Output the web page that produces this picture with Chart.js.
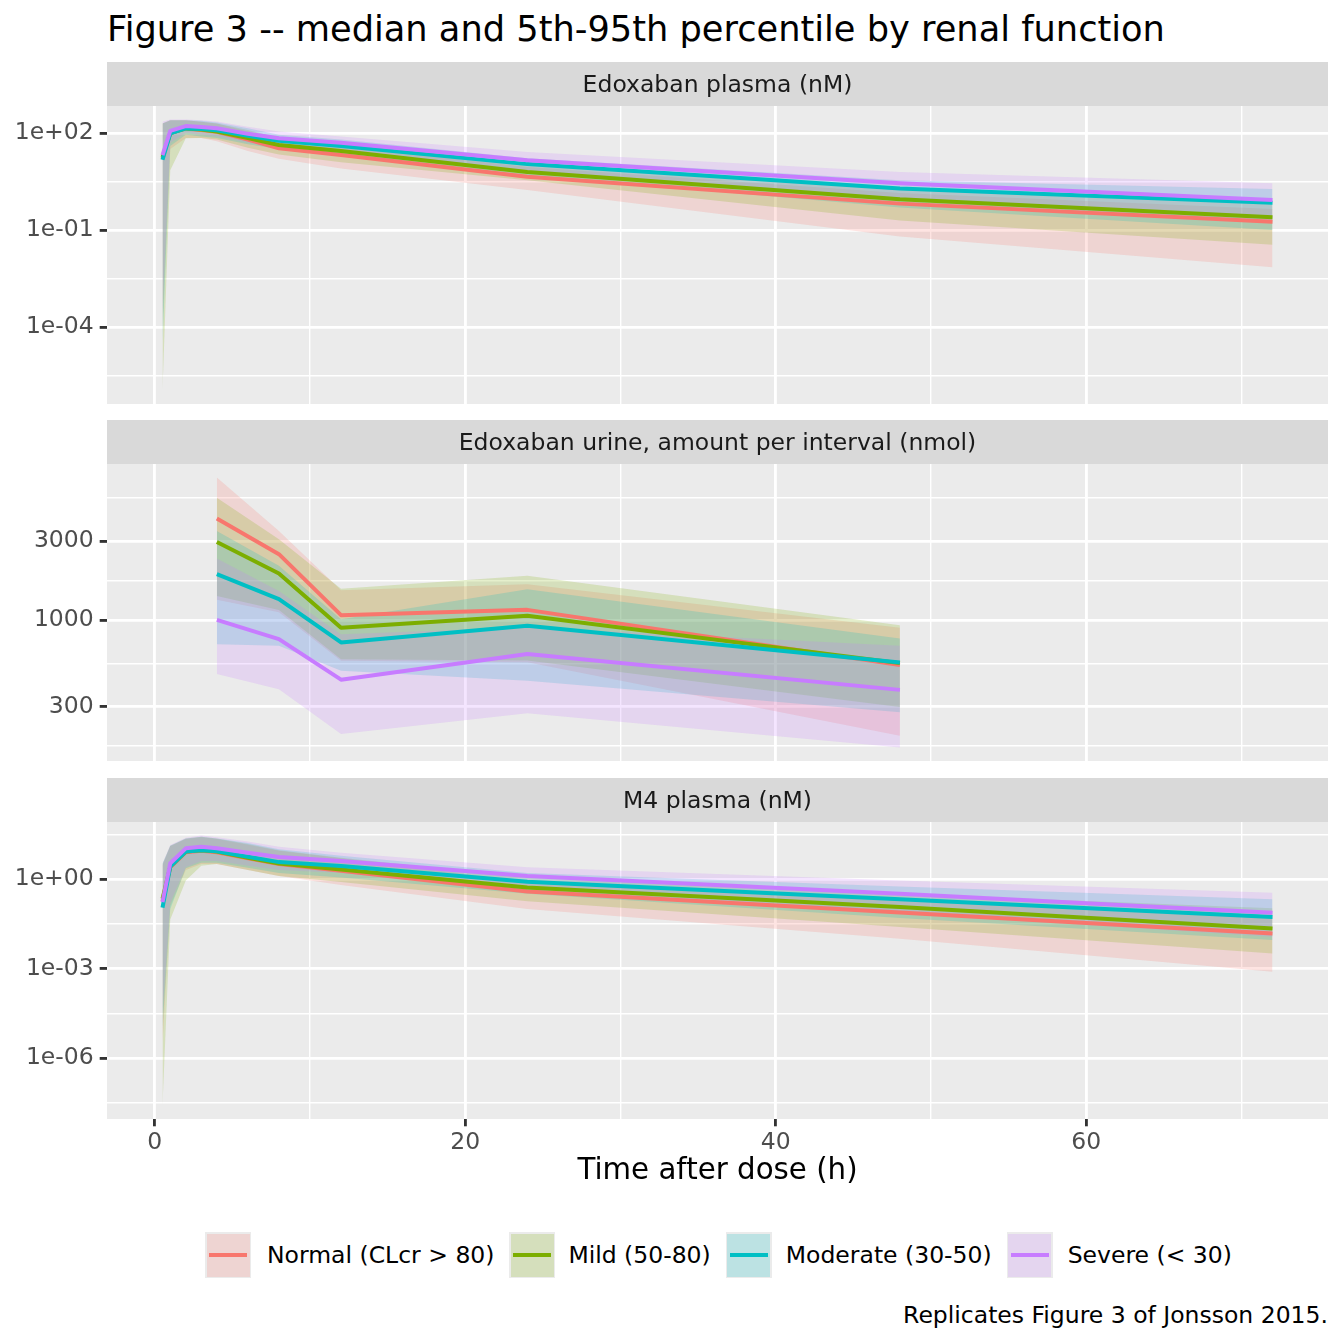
<!DOCTYPE html>
<html>
<head>
<meta charset="utf-8">
<script src="https://cdn.jsdelivr.net/npm/chart.js@4.4.1/dist/chart.umd.min.js"></script>
<style>
  body { margin: 0; background: #fff; }
  #page { position: relative; width: 1344px; height: 1344px; overflow: hidden; font-family: "DejaVu Sans", sans-serif; }
  canvas { position: absolute; left: 0; }
  .txt { position: absolute; white-space: nowrap; line-height: 40px; height: 40px; }
  #title { left: 107px; top: 9px; font-size: 35.2px; color: #000; }
  #caption { right: 16px; top: 1295px; font-size: 23.5px; color: #000; }
  .key { position: absolute; top: 1232px; width: 46px; height: 46px; background: #EBEBEB; }
  .key .fill { position: absolute; left: 1.5px; top: 1.5px; right: 1.5px; bottom: 1.5px; }
  .key .line { position: absolute; left: 4px; right: 4px; top: 21px; height: 4px; }
  .lab { position: absolute; top: 1235px; font-size: 23.5px; color: #000; line-height: 40px; white-space: nowrap; }
</style>
</head>
<body>
<div id="page">
  <div id="title" class="txt">Figure 3 -- median and 5th-95th percentile by renal function</div>
  <canvas id="c1" width="1344" height="342" style="top:62px"></canvas>
  <canvas id="c2" width="1344" height="341" style="top:420px"></canvas>
  <canvas id="c3" width="1344" height="411" style="top:778px"></canvas>
  <div id="caption" class="txt">Replicates Figure 3 of Jonsson 2015.</div>
</div>
<script>
// groups, in legend order
const groups = ['Normal (CLcr > 80)', 'Mild (50-80)', 'Moderate (30-50)', 'Severe (< 30)'];
const groupColors = ['#F8766D', '#7CAE00', '#00BFC4', '#C77CFF'];

// sampling times (h)
const timePlasma = [0.5, 1, 2, 3, 4, 6, 8, 12, 24, 48, 72];
const timeUrine = [4, 8, 12, 24, 48];

// Edoxaban plasma (nM): one row per group
const plasmaMed = [
  [16, 100, 140, 125, 110, 63, 34, 21, 4.5, 0.66, 0.18],
  [18, 100, 140, 130, 112, 70, 43, 28, 6.3, 0.9, 0.25],
  [15, 98, 140, 135, 123, 83, 58, 40, 11, 1.95, 0.7],
  [21, 117, 165, 155, 141, 95, 69, 50, 14.6, 2.8, 0.85]
];
const plasmaLo = [
  [1e-4, 32, 71, 71, 56, 28, 16, 8.1, 1.74, 0.063, 0.0071],
  [1.1e-6, 7.1, 69, 71, 63, 35, 22, 12.6, 3.5, 0.2, 0.035],
  [3.2e-5, 40, 89, 79, 71, 45, 32, 20, 5.0, 0.5, 0.1],
  [3.2e-4, 50, 100, 89, 79, 50, 35, 23, 6.3, 0.8, 0.2]
];
const plasmaHi = [
  [200, 250, 250, 224, 200, 112, 63, 40, 8.9, 1.4, 0.45],
  [200, 250, 250, 224, 200, 126, 71, 50, 11.2, 2.0, 0.63],
  [200, 250, 250, 240, 214, 141, 89, 63, 16.6, 3.5, 1.86],
  [224, 263, 263, 251, 229, 158, 112, 79, 26, 6.3, 2.8]
];

// Edoxaban urine, amount per interval (nmol)
const urineMed = [
  [4110, 2505, 1072, 1154, 535],
  [2970, 1915, 899, 1062, 550],
  [1895, 1340, 733, 924, 555],
  [1004, 768, 437, 624, 379]
];
const urineLo = [
  [1327, 1118, 568, 556, 200],
  [1400, 1150, 580, 570, 299],
  [716, 700, 494, 431, 278],
  [472, 383, 205, 274, 170]
];
const urineHi = [
  [7280, 3460, 1517, 1650, 900],
  [5500, 3080, 1550, 1853, 933],
  [3460, 2130, 1014, 1540, 774],
  [2360, 1500, 822, 906, 700]
];

// M4 plasma (nM)
const m4Med = [
  [0.18, 2.5, 7.9, 8.9, 7.9, 5.0, 3.2, 1.9, 0.38, 0.076, 0.015],
  [0.22, 2.6, 8.3, 9.3, 8.3, 5.2, 3.3, 2.1, 0.52, 0.115, 0.022],
  [0.11, 2.6, 8.3, 9.3, 8.5, 5.6, 3.7, 2.75, 0.81, 0.21, 0.054],
  [0.17, 3.4, 10.7, 12, 10.7, 7.6, 5.5, 4.0, 1.26, 0.32, 0.074]
];
const m4Lo = [
  [3.2e-6, 0.126, 2.0, 3.2, 3.2, 2.0, 1.26, 0.63, 0.1, 0.01, 0.00078],
  [2.6e-8, 0.044, 0.89, 2.8, 3.2, 2.0, 1.26, 0.79, 0.18, 0.025, 0.0032],
  [1e-5, 0.1, 2.3, 3.5, 3.5, 2.4, 1.6, 1.12, 0.32, 0.05, 0.0091],
  [3.2e-5, 0.16, 2.5, 4.0, 4.0, 2.8, 2.0, 1.6, 0.4, 0.071, 0.0117]
];
const m4Hi = [
  [2.8, 12.6, 22, 25, 22, 14, 8.9, 5.0, 0.79, 0.2, 0.055],
  [3.2, 13, 23, 26, 23, 15, 9.3, 5.2, 1.12, 0.32, 0.105],
  [3.2, 13, 23, 26, 23, 16, 10, 6.0, 1.6, 0.56, 0.21],
  [3.4, 13.8, 24, 28.8, 25, 18, 12, 7.6, 2.5, 0.89, 0.35]
];

// axis breaks
const xMajor = [0, 20, 40, 60];
const xMinor = [10, 30, 50, 70];
const plasmaMajor = [1e-7, 1e-4, 1e-1, 1e2];
const urineMajor = [100, 300, 1000, 3000, 10000];
const m4Major = [1e-6, 1e-3, 1e0];

const LINE_W = 4, GRID_MAJOR = 2.84, GRID_MINOR = 1.42;

function hexToRgba(hex, a) {
  const n = parseInt(hex.slice(1), 16);
  return 'rgba(' + (n >> 16) + ',' + ((n >> 8) & 255) + ',' + (n & 255) + ',' + a + ')';
}

function sci(v) {
  const e = Math.round(Math.log10(v));
  return '1e' + (e < 0 ? '-' : '+') + String(Math.abs(e)).padStart(2, '0');
}

function pts(xs, ys) {
  return xs.map((x, i) => ({ x: x, y: ys[i] }));
}

// ggplot-style 5% expansion of the data range (log10 for y)
function expand(lo, hi, log) {
  const a = log ? Math.log10(lo) : lo, b = log ? Math.log10(hi) : hi;
  const d = (b - a) * 0.05;
  return log ? [Math.pow(10, a - d), Math.pow(10, b + d)] : [a - d, b + d];
}

// minor log breaks sit at the geometric mean of neighbouring majors
function logMinors(majors) {
  const out = [];
  for (let i = 0; i < majors.length - 1; i++) out.push(Math.sqrt(majors[i] * majors[i + 1]));
  out.push(Math.sqrt(majors[majors.length - 1] * majors[majors.length - 1] * majors[1] / majors[0]));
  out.unshift(Math.sqrt(majors[0] * majors[0] * majors[0] / majors[1]));
  return out;
}

const allTimes = timePlasma.concat(timeUrine);
const xLim = expand(Math.min.apply(null, allTimes), Math.max.apply(null, allTimes), false);

const panels = [
  { id: 'c1', strip: 'Edoxaban plasma (nM)', time: timePlasma, med: plasmaMed, lo: plasmaLo, hi: plasmaHi,
    major: plasmaMajor, fmt: sci, bottom: false },
  { id: 'c2', strip: 'Edoxaban urine, amount per interval (nmol)', time: timeUrine, med: urineMed, lo: urineLo, hi: urineHi,
    major: urineMajor, fmt: v => String(Math.round(v)), bottom: false },
  { id: 'c3', strip: 'M4 plasma (nM)', time: timePlasma, med: m4Med, lo: m4Lo, hi: m4Hi,
    major: m4Major, fmt: sci, bottom: true }
];

const panelPlugin = {
  id: 'panelBg',
  beforeDraw(chart, args, opts) {
    const a = chart.chartArea, ctx = chart.ctx;
    ctx.save();
    ctx.fillStyle = '#EBEBEB';
    ctx.fillRect(a.left, a.top, a.right - a.left, a.bottom - a.top);
    ctx.fillStyle = '#D9D9D9';
    ctx.fillRect(a.left, a.top - 44, a.right - a.left, 44);
    ctx.fillStyle = '#1A1A1A';
    ctx.font = '23.5px "DejaVu Sans"';
    ctx.textAlign = 'center';
    ctx.textBaseline = 'middle';
    ctx.fillText(opts.text, (a.left + a.right) / 2, a.top - 20.5);
    ctx.restore();
  }
};

panels.forEach(p => {
  const allY = [].concat.apply([], p.lo.concat(p.hi));
  const yLim = expand(Math.min.apply(null, allY), Math.max.apply(null, allY), true);
  const yBreaks = p.major.concat(logMinors(p.major)).filter(v => v >= yLim[0] && v <= yLim[1]).sort((a, b) => a - b);
  const isMajorY = v => p.major.some(m => Math.abs(Math.log10(m) - Math.log10(v)) < 1e-6);
  const xBreaks = xMajor.concat(xMinor).sort((a, b) => a - b);

  const datasets = [];
  // median lines, Severe first so it is drawn on top
  for (let g = 3; g >= 0; g--) {
    datasets.push({ label: groups[g], data: pts(p.time, p.med[g]), borderColor: groupColors[g],
      borderWidth: LINE_W, pointRadius: 0, fill: false, borderJoinStyle: 'round', tension: 0 });
  }
  // 5th-95th ribbons
  for (let g = 3; g >= 0; g--) {
    datasets.push({ data: pts(p.time, p.hi[g]), borderColor: 'rgba(0,0,0,0)', borderWidth: 0,
      pointRadius: 0, fill: '+1', backgroundColor: hexToRgba(groupColors[g], 0.2), tension: 0 });
    datasets.push({ data: pts(p.time, p.lo[g]), borderColor: 'rgba(0,0,0,0)', borderWidth: 0,
      pointRadius: 0, fill: false, tension: 0 });
  }

  new Chart(document.getElementById(p.id), {
    type: 'line',
    data: { datasets: datasets },
    plugins: [panelPlugin],
    options: {
      responsive: false,
      animation: false,
      devicePixelRatio: 1,
      events: [],
      layout: { padding: { top: 44, right: 16, bottom: 0, left: 0 } },
      plugins: {
        legend: { display: false },
        tooltip: { enabled: false },
        filler: { drawTime: 'beforeDatasetsDraw' },
        panelBg: { text: p.strip }
      },
      scales: {
        x: {
          type: 'linear', bounds: 'data', min: xLim[0], max: xLim[1],
          border: { display: false },
          grid: {
            color: '#FFFFFF',
            lineWidth: c => (c.tick && xMajor.indexOf(c.tick.value) >= 0) ? GRID_MAJOR : GRID_MINOR,
            drawTicks: p.bottom,
            tickLength: 7.3,
            tickWidth: GRID_MAJOR,
            tickColor: c => (c.tick && xMajor.indexOf(c.tick.value) >= 0) ? '#333333' : 'rgba(0,0,0,0)'
          },
          ticks: {
            display: p.bottom, autoSkip: false, maxRotation: 0, padding: 2,
            color: '#4D4D4D', font: { family: 'DejaVu Sans', size: 23.5 },
            callback: v => xMajor.indexOf(v) >= 0 ? String(v) : ''
          },
          title: {
            display: p.bottom, text: 'Time after dose (h)', color: '#000000',
            font: { family: 'DejaVu Sans', size: 29.3 }, padding: 0
          },
          afterBuildTicks: s => { s.ticks = xBreaks.map(v => ({ value: v })); },
          afterFit: s => { s.height = p.bottom ? 70 : 0; s.paddingLeft = 0; s.paddingRight = 0; }
        },
        y: {
          type: 'logarithmic', bounds: 'data', min: yLim[0], max: yLim[1],
          border: { display: false },
          grid: {
            color: '#FFFFFF',
            lineWidth: c => (c.tick && isMajorY(c.tick.value)) ? GRID_MAJOR : GRID_MINOR,
            drawTicks: true,
            tickLength: 7.3,
            tickWidth: GRID_MAJOR,
            tickColor: c => (c.tick && isMajorY(c.tick.value)) ? '#333333' : 'rgba(0,0,0,0)'
          },
          ticks: {
            autoSkip: false, padding: 6,
            color: '#4D4D4D', font: { family: 'DejaVu Sans', size: 23.5 },
            callback: v => isMajorY(v) ? p.fmt(v) : ''
          },
          afterBuildTicks: s => { s.ticks = yBreaks.map(v => ({ value: v })); },
          afterFit: s => { s.width = 107; s.paddingTop = 0; s.paddingBottom = 0; }
        }
      }
    }
  });
});

// legend, keys and labels placed as in the ggplot guide
const keyLeft = [205.4, 509, 725.5, 1006.7];
const labLeft = [267, 568.4, 785.8, 1067.7];
const page = document.getElementById('page');
groups.forEach((name, g) => {
  const key = document.createElement('div');
  key.className = 'key';
  key.style.left = keyLeft[g] + 'px';
  const fill = document.createElement('div');
  fill.className = 'fill';
  fill.style.background = hexToRgba(groupColors[g], 0.2);
  const line = document.createElement('div');
  line.className = 'line';
  line.style.background = groupColors[g];
  key.appendChild(fill);
  key.appendChild(line);
  const lab = document.createElement('div');
  lab.className = 'lab';
  lab.style.left = labLeft[g] + 'px';
  lab.textContent = name;
  page.appendChild(key);
  page.appendChild(lab);
});
</script>
</body>
</html>
